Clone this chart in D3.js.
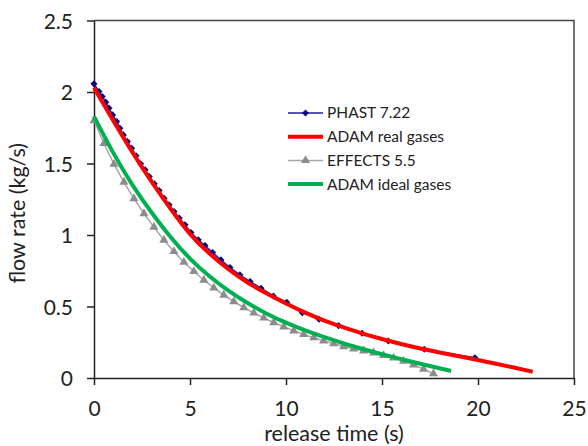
<!DOCTYPE html>
<html>
<head>
<meta charset="utf-8">
<script src="https://cdn.jsdelivr.net/npm/d3@7"></script>
<style>
  body { margin: 0; background: #fff; }
  text { font-family: Lato, "Open Sans", sans-serif; fill: #222; }
  .axis path, .axis line { stroke: #222; stroke-width: 1.5; }
</style>
</head>
<body>
<div id="chart"></div>
<script>
// PHAST 7.22 (diamonds)
var phastTime = [0, 0.26, 0.43, 0.61, 0.78, 0.97, 1.18, 1.35, 1.53, 1.74, 1.96, 2.19, 2.43, 2.66, 2.88,
  3.14, 3.39, 3.65, 3.91, 4.17, 4.44, 4.74, 5.05, 5.43, 5.78, 6.18, 6.61, 7.08, 7.6, 8.13, 8.7, 9.34,
  10.04, 10.85, 11.72, 12.74, 13.96, 15.33, 17.2, 19.84];
var phastFlow = [2.057, 2.004, 1.969, 1.929, 1.887, 1.84, 1.794, 1.747, 1.7, 1.654, 1.607, 1.554, 1.498,
  1.456, 1.409, 1.358, 1.311, 1.257, 1.211, 1.164, 1.118, 1.071, 1.017, 0.966, 0.926, 0.877, 0.826,
  0.772, 0.721, 0.674, 0.628, 0.574, 0.53, 0.457, 0.411, 0.366, 0.313, 0.259, 0.201, 0.142];

// ADAM real gases
var adamRealTime = [0, 1, 2, 3, 4, 5, 6, 7, 8, 9, 10, 11, 12, 13, 14, 15, 16, 17, 18, 19, 20, 21, 22, 22.85];
var adamRealFlow = [2.03, 1.8, 1.575, 1.37, 1.18, 1.0, 0.868, 0.758, 0.665, 0.59, 0.52, 0.455, 0.4, 0.353,
  0.31, 0.272, 0.237, 0.205, 0.178, 0.152, 0.127, 0.098, 0.069, 0.044];

// EFFECTS 5.5 (triangles)
var effectsTime = [0, 0.52, 1.04, 1.56, 2.08, 2.6, 3.12, 3.64, 4.16, 4.68, 5.2, 5.72, 6.24, 6.76, 7.28,
  7.8, 8.32, 8.84, 9.36, 9.88, 10.4, 10.92, 11.44, 11.96, 12.48, 13, 13.52, 14.04, 14.56, 15.08, 15.6,
  16.12, 16.64, 17.16, 17.68];
var effectsFlow = [1.8, 1.64, 1.495, 1.37, 1.255, 1.15, 1.055, 0.965, 0.885, 0.81, 0.745, 0.685, 0.63,
  0.58, 0.535, 0.493, 0.455, 0.42, 0.388, 0.358, 0.33, 0.305, 0.282, 0.26, 0.24, 0.22, 0.204, 0.19,
  0.176, 0.158, 0.14, 0.118, 0.092, 0.062, 0.03];

// ADAM ideal gases
var adamIdealTime = [0, 1, 2, 3, 4, 5, 6, 7, 8, 9, 10, 11, 12, 13, 14, 15, 16, 17, 18, 18.6];
var adamIdealFlow = [1.83, 1.57, 1.345, 1.155, 0.98, 0.83, 0.71, 0.608, 0.522, 0.448, 0.385, 0.332, 0.285,
  0.242, 0.202, 0.166, 0.132, 0.1, 0.068, 0.049];

var xTicks = [0, 5, 10, 15, 20, 25];
var yTicks = [0, 0.5, 1, 1.5, 2, 2.5];
var legendNames = ['PHAST 7.22', 'ADAM real gases', 'EFFECTS 5.5', 'ADAM ideal gases'];

var W = 588, H = 446;
var margin = { top: 20.5, right: 14, bottom: 68, left: 94 };
var w = W - margin.left - margin.right,
    h = H - margin.top - margin.bottom;

function translation(x, y) {
  return 'translate(' + x + ',' + y + ')';
}
function zip(xs, ys) {
  return xs.map(function(x, i) { return [x, ys[i]]; });
}

var svg = d3.select('#chart').append('svg')
  .attr('width', W)
  .attr('height', H);
var g = svg.append('g').attr('transform', translation(margin.left, margin.top));

var x = d3.scaleLinear().domain([0, 25]).range([0, w]);
var y = d3.scaleLinear().domain([0, 2.5]).range([h, 0]);

// frame (top and right)
g.append('path')
  .attr('d', 'M0,0H' + w + 'V' + h)
  .attr('fill', 'none')
  .attr('stroke', '#444')
  .attr('stroke-width', 1.5);

var xAxis = g.append('g')
  .attr('class', 'axis')
  .attr('transform', translation(0, h))
  .call(d3.axisBottom(x).tickValues(xTicks).tickFormat(d3.format('~g'))
    .tickSize(7).tickPadding(16).tickSizeOuter(0));
xAxis.selectAll('text').style('font-size', '21px');

var yAxis = g.append('g')
  .attr('class', 'axis')
  .call(d3.axisLeft(y).tickValues(yTicks).tickFormat(d3.format('~g'))
    .tickSize(7).tickPadding(14).tickSizeOuter(0));
yAxis.selectAll('text').style('font-size', '21px').attr('dy', '0.36em');

g.append('text')
  .attr('x', w / 2)
  .attr('y', h + 63)
  .attr('text-anchor', 'middle')
  .style('font-size', '21.5px')
  .text('release time (s)');

svg.append('text')
  .attr('transform', translation(25, margin.top + h / 2 + 14) + ' rotate(-90)')
  .attr('text-anchor', 'middle')
  .style('font-size', '21.5px')
  .text('flow rate (kg/s)');

var line = d3.line()
  .x(function(d) { return x(d[0]); })
  .y(function(d) { return y(d[1]); });
var smooth = d3.line()
  .x(function(d) { return x(d[0]); })
  .y(function(d) { return y(d[1]); })
  .curve(d3.curveBasis);

var phast = zip(phastTime, phastFlow),
    adamReal = zip(adamRealTime, adamRealFlow),
    effects = zip(effectsTime, effectsFlow),
    adamIdeal = zip(adamIdealTime, adamIdealFlow);

// EFFECTS 5.5
g.append('path').datum(effects)
  .attr('d', line)
  .attr('fill', 'none')
  .attr('stroke', '#a6a6a6')
  .attr('stroke-width', 1.5);
g.selectAll('.tri').data(effects).enter().append('path')
  .attr('class', 'tri')
  .attr('transform', function(d) { return translation(x(d[0]), y(d[1])); })
  .attr('d', d3.symbol().type(d3.symbolTriangle).size(36))
  .attr('fill', '#8c8c8c');

// ADAM ideal gases
g.append('path').datum(adamIdeal)
  .attr('d', smooth)
  .attr('fill', 'none')
  .attr('stroke', '#00b050')
  .attr('stroke-width', 4);

// PHAST 7.22
g.append('path').datum(phast)
  .attr('d', line)
  .attr('fill', 'none')
  .attr('stroke', '#1f1f9a')
  .attr('stroke-width', 1.5);
g.selectAll('.dia').data(phast).enter().append('path')
  .attr('class', 'dia')
  .attr('transform', function(d) { return translation(x(d[0]), y(d[1])); })
  .attr('d', d3.symbol().type(d3.symbolDiamond2).size(32))
  .attr('fill', '#0a0a80');

// ADAM real gases
g.append('path').datum(adamReal)
  .attr('d', smooth)
  .attr('fill', 'none')
  .attr('stroke', '#ff0000')
  .attr('stroke-width', 4);

// legend
var legendColors = ['#1f1f9a', '#ff0000', '#a6a6a6', '#00b050'];
var legendWidths = [1.5, 4, 1.5, 4];
var legend = svg.append('g').attr('transform', translation(288, 113));
var rows = legend.selectAll('g').data(legendNames).enter().append('g')
  .attr('transform', function(d, i) { return translation(0, i * 23.7); });
rows.append('line')
  .attr('x1', 0).attr('x2', 35)
  .attr('stroke', function(d, i) { return legendColors[i]; })
  .attr('stroke-width', function(d, i) { return legendWidths[i]; });
rows.filter(function(d, i) { return i === 0; }).append('path')
  .attr('transform', translation(17.5, 0))
  .attr('d', d3.symbol().type(d3.symbolDiamond2).size(32))
  .attr('fill', '#0a0a80');
rows.filter(function(d, i) { return i === 2; }).append('path')
  .attr('transform', translation(17.5, 0))
  .attr('d', d3.symbol().type(d3.symbolTriangle).size(36))
  .attr('fill', '#8c8c8c');
rows.append('text')
  .attr('x', 39)
  .attr('dy', '0.35em')
  .style('font-size', '15.5px')
  .text(function(d) { return d; });
</script>
</body>
</html>
